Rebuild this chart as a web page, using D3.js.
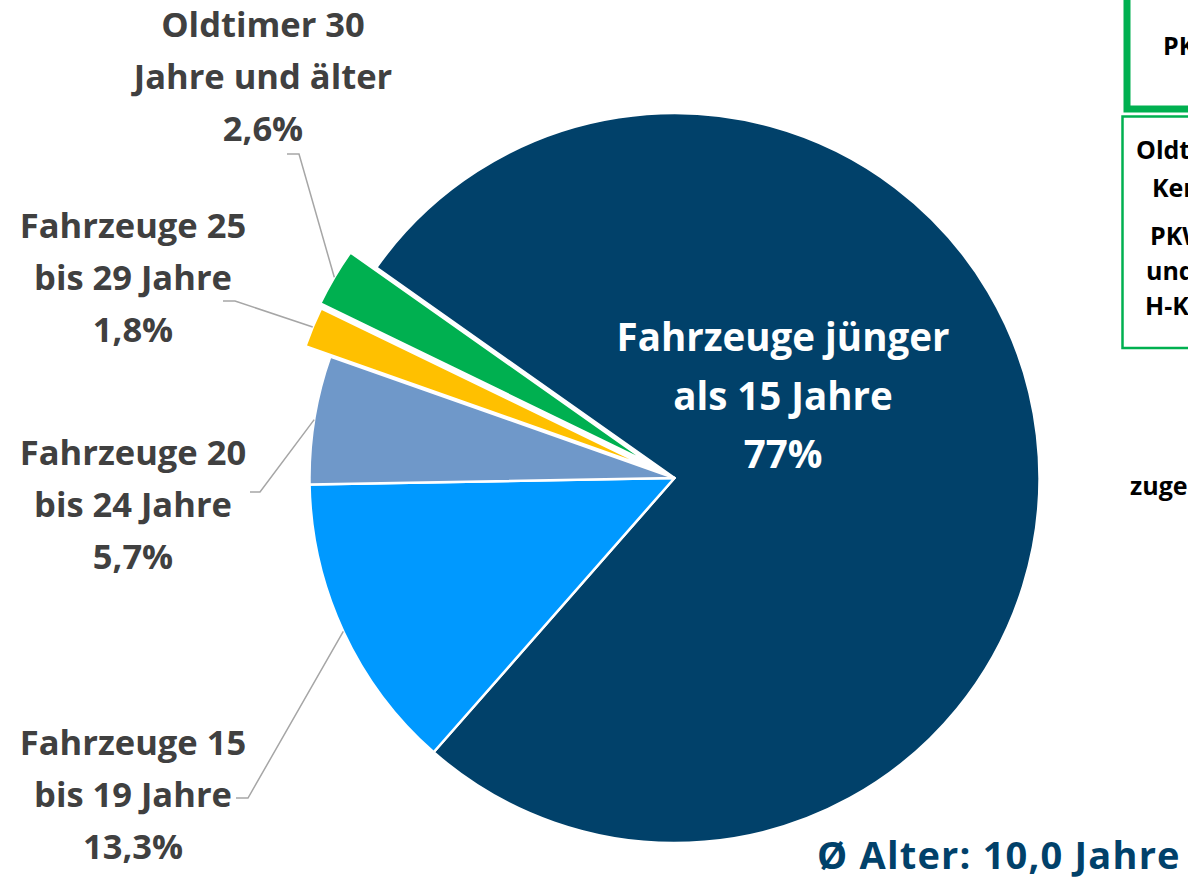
<!DOCTYPE html>
<html>
<head>
<meta charset="utf-8">
<script src="https://cdn.jsdelivr.net/npm/d3@7"></script>
<style>
    html, body { margin: 0; padding: 0; background: #fff; }
    svg { display: block; font-family: "Open Sans", "Noto Sans", sans-serif; font-weight: bold; }
</style>
</head>
<body>
<div id="chart"></div>
<script>

// slices, clockwise starting with the big one
var categories = ["unter15", "15bis19", "20bis24", "25bis29", "ab30"];
var shares = [77, 13.3, 5.7, 1.8, 2.6];
var labelLines = [
    ["Fahrzeuge jünger", "als 15 Jahre"],
    ["Fahrzeuge 15", "bis 19 Jahre"],
    ["Fahrzeuge 20", "bis 24 Jahre"],
    ["Fahrzeuge 25", "bis 29 Jahre"],
    ["Oldtimer 30", "Jahre und älter"]
];
var colors = ["#01416a", "#0099ff", "#6f98c9", "#ffc000", "#00b050"];
var avgText = "Ø Alter: 10,0 Jahre";
var boxLines = ["Oldtimer-", "Kennzeichen", "PKW mit", "und ohne", "H-Kennzeichen"];

var width = 1188, height = 879;
var cx = 674.5, cy = 478, radius = 365;
var startDeg = -54.8;

// explode offsets (px) of the small slices
var explode = { "25bis29": 27, "ab30": 30 };

// outside labels: centre x, first baseline, elbow points of the leader line
var labelPos = {
    "15bis19": { x: 133, y: 755, e1: [236, 798], e2: [248, 798] },
    "20bis24": { x: 133, y: 465, e1: [250, 492], e2: [260, 492] },
    "25bis29": { x: 133, y: 238, e1: [223, 301], e2: [235, 301] },
    "ab30": { x: 263, y: 37, e1: [287, 154], e2: [299, 154] }
};

function fmtShare(v) {
    return (v % 1 === 0 ? String(v) : v.toFixed(1).replace(".", ",")) + "%";
}

var svg = d3.select("#chart")
    .append("svg")
    .attr("width", width)
    .attr("height", height);

svg.append("rect")
    .attr("width", width)
    .attr("height", height)
    .attr("fill", "#fff");

var rows = categories.map(function (c, i) {
    return { key: c, value: shares[i], lines: labelLines[i], color: colors[i] };
});

var pie = d3.pie()
    .sort(null)
    .value(d => d.value)
    .startAngle(startDeg * Math.PI / 180)
    .endAngle((startDeg + 360) * Math.PI / 180);

var arcs = pie(rows);

var arc = d3.arc()
    .innerRadius(0)
    .outerRadius(radius);

function offsetOf(d) {
    var off = explode[d.data.key] || 0;
    var a = (d.startAngle + d.endAngle) / 2;
    return [off * Math.sin(a), -off * Math.cos(a)];
}

var pieG = svg.append("g")
    .attr("transform", "translate(" + cx + "," + cy + ")");

pieG.selectAll("path")
    .data(arcs)
    .enter()
    .append("path")
    .attr("d", arc)
    .attr("transform", d => "translate(" + offsetOf(d) + ")")
    .attr("fill", d => d.data.color)
    .attr("stroke", "#fff")
    .attr("stroke-width", 2.5)
    .attr("stroke-linejoin", "round");

// leader lines
arcs.forEach(function (d) {
    var p = labelPos[d.data.key];
    if (!p) return;
    var a = (d.startAngle + d.endAngle) / 2;
    var r = radius + (explode[d.data.key] || 0);
    var end = [cx + r * Math.sin(a), cy - r * Math.cos(a)];
    svg.append("path")
        .attr("d", d3.line()([p.e1, p.e2, end]))
        .attr("fill", "none")
        .attr("stroke", "#a6a6a6")
        .attr("stroke-width", 1.5);
});

// outside labels
arcs.forEach(function (d) {
    var p = labelPos[d.data.key];
    if (!p) return;
    var t = svg.append("text")
        .attr("text-anchor", "middle")
        .attr("fill", "#404040")
        .style("font-size", "34.5px");
    d.data.lines.concat([fmtShare(d.data.value)]).forEach(function (s, i) {
        t.append("tspan")
            .attr("x", p.x)
            .attr("y", p.y + i * 52)
            .text(s);
    });
});

// label inside the big slice
var big = arcs[0];
var inner = svg.append("text")
    .attr("text-anchor", "middle")
    .attr("fill", "#fff")
    .style("font-size", "38.5px");
big.data.lines.concat([fmtShare(big.data.value)]).forEach(function (s, i) {
    inner.append("tspan")
        .attr("x", 783)
        .attr("y", 351 + i * 58.5)
        .text(s);
});

// average age
svg.append("text")
    .attr("x", 817)
    .attr("y", 869)
    .attr("fill", "#01416a")
    .style("font-size", "38px")
    .style("letter-spacing", "1.2px")
    .text(avgText);

// boxes on the right, cut off by the page edge
svg.append("rect")
    .attr("x", 1127)
    .attr("y", -20)
    .attr("width", 200)
    .attr("height", 129)
    .attr("fill", "none")
    .attr("stroke", "#00b050")
    .attr("stroke-width", 7);

svg.append("text")
    .attr("x", 1163)
    .attr("y", 55)
    .attr("fill", "#000")
    .style("font-size", "25px")
    .text("PKW");

svg.append("rect")
    .attr("x", 1122.5)
    .attr("y", 116.5)
    .attr("width", 200)
    .attr("height", 231.5)
    .attr("fill", "none")
    .attr("stroke", "#00b050")
    .attr("stroke-width", 2.5);

var boxX = [1136, 1152, 1150, 1146, 1145];
var boxY = [159, 197, 245, 280, 315];
boxLines.forEach(function (s, i) {
    svg.append("text")
        .attr("x", boxX[i])
        .attr("y", boxY[i])
        .attr("fill", "#000")
        .style("font-size", "25px")
        .text(s);
});

svg.append("text")
    .attr("x", 1130)
    .attr("y", 495)
    .attr("fill", "#000")
    .style("font-size", "25px")
    .text("zugelassen");

</script>
</body>
</html>
